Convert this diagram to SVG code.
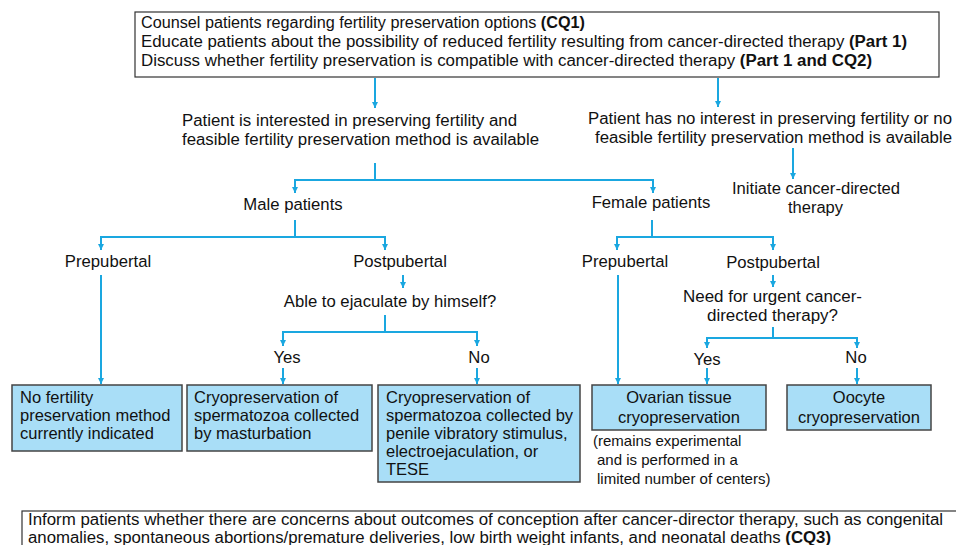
<svg xmlns="http://www.w3.org/2000/svg" width="956" height="545" viewBox="0 0 956 545">
<defs>
<marker id="ah" viewBox="0 0 10 10" refX="10" refY="5" markerWidth="6" markerHeight="6" markerUnits="userSpaceOnUse" orient="auto">
<path d="M0,0 L10,5 L0,10 z" fill="#1aa7e0"/>
</marker>
<style>
.t{font-family:"Liberation Sans",Arial,sans-serif;font-size:16.7px;fill:#111}
.s{font-family:"Liberation Sans",Arial,sans-serif;font-size:16px;fill:#111}
.x{font-family:"Liberation Sans",Arial,sans-serif;font-size:16.5px;fill:#111}
.n{font-family:"Liberation Sans Narrow","Liberation Sans",Arial,sans-serif;font-size:16px;fill:#111}
.c{font-family:"Liberation Sans",Arial,sans-serif;font-size:15px;fill:#111}
.m{text-anchor:middle}
.b{font-weight:bold}
.box{fill:#a9def7;stroke:#444;stroke-width:1.5}
.frame{fill:#fff;stroke:#333;stroke-width:1.2}
.ln{fill:none;stroke:#1aa7e0;stroke-width:2}
.ar{fill:none;stroke:#1aa7e0;stroke-width:2;marker-end:url(#ah)}
</style>
</defs>
<rect width="956" height="545" fill="#fff"/>

<g id="connectors">
<path class="ar" d="M375 78 V108"/>
<path class="ar" d="M718 78 V107"/>
<path class="ln" d="M375 163 V180"/>
<path class="ar" d="M375 180 H295 V193"/>
<path class="ar" d="M375 180 H653 V193"/>
<path class="ar" d="M793 148 V179"/>
<path class="ln" d="M295 220 V237"/>
<path class="ar" d="M295 237 H101 V250"/>
<path class="ar" d="M295 237 H385 V250"/>
<path class="ar" d="M101 275 V384"/>
<path class="ar" d="M403 275 V288"/>
<path class="ln" d="M385 315 V332"/>
<path class="ar" d="M385 332 H283 V346"/>
<path class="ar" d="M385 332 H477 V346"/>
<path class="ar" d="M283 368 V384"/>
<path class="ar" d="M477 368 V384"/>
<path class="ln" d="M652 220 V237"/>
<path class="ar" d="M652 237 H617 V250"/>
<path class="ar" d="M652 237 H773 V250"/>
<path class="ar" d="M618 275 V384"/>
<path class="ar" d="M773 275 V287"/>
<path class="ln" d="M773 327 V338"/>
<path class="ar" d="M773 338 H707 V348"/>
<path class="ar" d="M773 338 H857 V348"/>
<path class="ar" d="M707 368 V384"/>
<path class="ar" d="M857 368 V384"/>
</g>

<g id="top">
<rect class="frame" x="135" y="12" width="804" height="65"/>
<text class="n" x="141" y="28" textLength="444" lengthAdjust="spacingAndGlyphs">Counsel patients regarding fertility preservation options <tspan class="b">(CQ1)</tspan></text>
<text class="n" x="141" y="47" textLength="766" lengthAdjust="spacingAndGlyphs">Educate patients about the possibility of reduced fertility resulting from cancer-directed therapy <tspan class="b">(Part 1)</tspan></text>
<text class="n" x="141" y="66" textLength="731" lengthAdjust="spacingAndGlyphs">Discuss whether fertility preservation is compatible with cancer-directed therapy <tspan class="b">(Part 1 and CQ2)</tspan></text>
</g>

<g id="interested">
<text class="s" x="182" y="126" textLength="335" lengthAdjust="spacingAndGlyphs">Patient is interested in preserving fertility and</text>
<text class="s" x="182" y="144.5" textLength="357" lengthAdjust="spacingAndGlyphs">feasible fertility preservation method is available</text>
</g>

<g id="nointerest">
<text class="s" x="588" y="124" textLength="364" lengthAdjust="spacingAndGlyphs">Patient has no interest in preserving fertility or no</text>
<text class="s" x="595" y="142.5" textLength="357" lengthAdjust="spacingAndGlyphs">feasible fertility preservation method is available</text>
</g>

<g id="initiate">
<text class="s" x="732" y="194" textLength="168" lengthAdjust="spacingAndGlyphs">Initiate cancer-directed</text>
<text class="s" x="788" y="212.5" textLength="55" lengthAdjust="spacingAndGlyphs">therapy</text>
</g>

<g id="male"><text class="t m" x="293" y="210">Male patients</text></g>
<g id="female"><text class="t m" x="651" y="208">Female patients</text></g>

<g id="male-pre"><text class="t m" x="108" y="267">Prepubertal</text></g>
<g id="male-post"><text class="t m" x="400" y="267">Postpubertal</text></g>
<g id="ejaculate"><text class="t m" x="390" y="307">Able to ejaculate by himself?</text></g>
<g id="male-yes"><text class="t m" x="287" y="363">Yes</text></g>
<g id="male-no"><text class="t m" x="479" y="363">No</text></g>

<g id="female-pre"><text class="t m" x="625" y="267">Prepubertal</text></g>
<g id="female-post"><text class="t m" x="773" y="268">Postpubertal</text></g>
<g id="urgent">
<text class="s" x="683" y="302" textLength="179" lengthAdjust="spacingAndGlyphs">Need for urgent cancer-</text>
<text class="s" x="707" y="320.5" textLength="131" lengthAdjust="spacingAndGlyphs">directed therapy?</text>
</g>
<g id="female-yes"><text class="t m" x="707" y="365">Yes</text></g>
<g id="female-no"><text class="t m" x="856" y="363">No</text></g>

<g id="box-none">
<rect class="box" x="12" y="385" width="170" height="66"/>
<text class="x" x="20" y="403">No fertility</text>
<text class="x" x="20" y="421">preservation method</text>
<text class="x" x="20" y="439">currently indicated</text>
</g>

<g id="box-masturbation">
<rect class="box" x="187" y="385" width="185" height="66"/>
<text class="x" x="194" y="403">Cryopreservation of</text>
<text class="x" x="194" y="421">spermatozoa collected</text>
<text class="x" x="194" y="439">by masturbation</text>
</g>

<g id="box-vibratory">
<rect class="box" x="378" y="385" width="202" height="97"/>
<text class="x" x="386" y="403">Cryopreservation of</text>
<text class="x" x="386" y="421">spermatozoa collected by</text>
<text class="x" x="386" y="439">penile vibratory stimulus,</text>
<text class="x" x="386" y="457">electroejaculation, or</text>
<text class="x" x="386" y="475">TESE</text>
</g>

<g id="box-ovarian">
<rect class="box" x="592" y="385" width="174" height="45"/>
<text class="x m" x="679" y="403">Ovarian tissue</text>
<text class="x m" x="679" y="423">cryopreservation</text>
<text class="c" x="593" y="446">(remains experimental</text>
<text class="c" x="597" y="465">and is performed in a</text>
<text class="c" x="597" y="484">limited number of centers)</text>
</g>

<g id="box-oocyte">
<rect class="box" x="787" y="385" width="144" height="45"/>
<text class="x m" x="859" y="403">Oocyte</text>
<text class="x m" x="859" y="423">cryopreservation</text>
</g>

<g id="bottom">
<rect class="frame" x="22" y="511" width="950" height="50"/>
<text class="n" x="28" y="525" textLength="915" lengthAdjust="spacingAndGlyphs">Inform patients whether there are concerns about outcomes of conception after cancer-director therapy, such as congenital</text>
<text class="n" x="28" y="543" textLength="803" lengthAdjust="spacingAndGlyphs">anomalies, spontaneous abortions/premature deliveries, low birth weight infants, and neonatal deaths <tspan class="b">(CQ3)</tspan></text>
</g>
</svg>
